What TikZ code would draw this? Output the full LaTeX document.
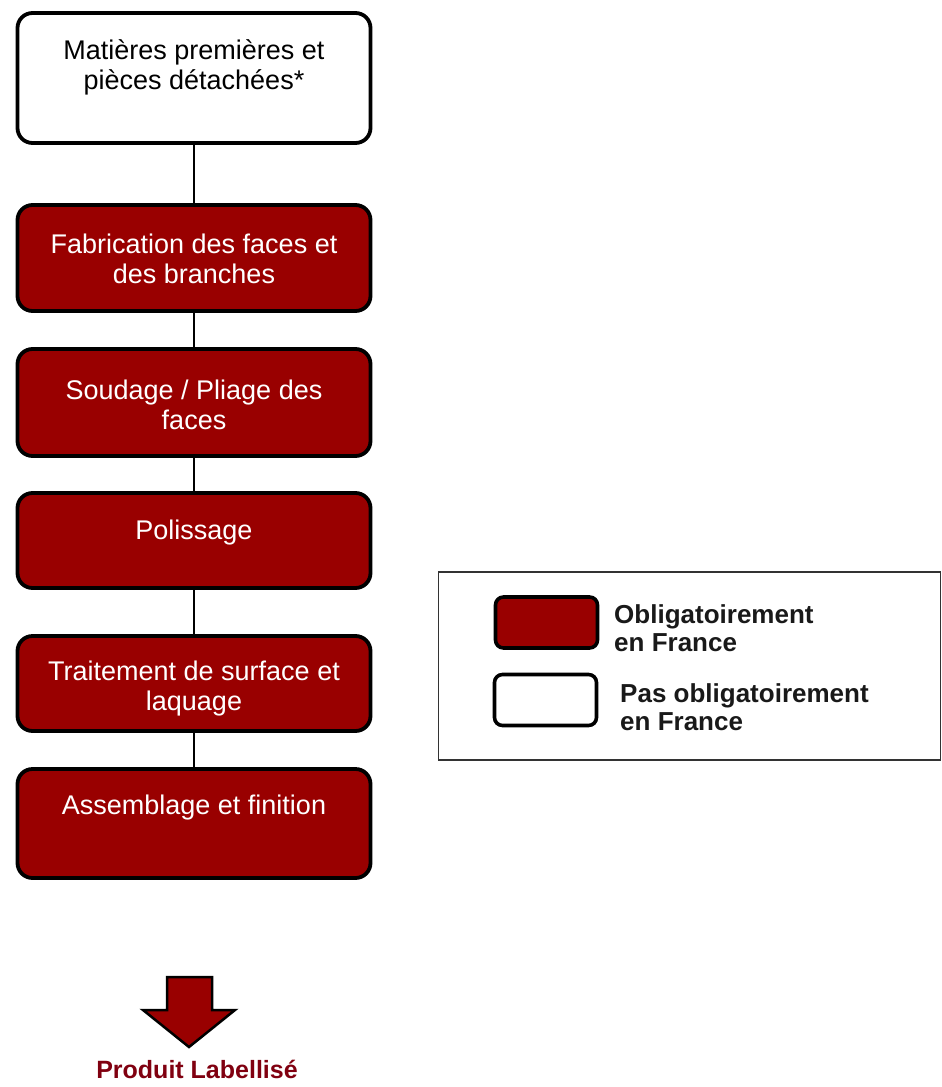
\documentclass[tikz,border=0pt]{standalone}
\usepackage{fontspec}
\setmainfont{Liberation Sans}
\definecolor{boxred}{RGB}{153,0,0}
\definecolor{labred}{RGB}{128,0,16}
\begin{document}
\begin{tikzpicture}[x=1pt,y=-1pt,
  stepbox/.style={draw=black, line width=3.8pt, rounded corners=15pt, minimum width=353pt, inner sep=0pt, outer sep=0pt},
  redbox/.style={stepbox, fill=boxred},
  whitebox/.style={stepbox, fill=white},
  boxtext/.style={align=center, font=\fontsize{27}{30}\selectfont, inner sep=0pt},
  whitetext/.style={boxtext, text=white},
  conn/.style={draw=black, line width=1.5pt},
  swatch/.style={draw=black, line width=3.6pt, rounded corners=8pt, minimum width=102pt, minimum height=51pt, inner sep=0pt},
  legtext/.style={align=left, anchor=west, font=\bfseries\fontsize{26}{28}\selectfont, inner sep=0pt, text=black!90}
]
\useasboundingbox (0,0) rectangle (942,1087);

% process boxes
\node[whitebox, minimum height=130pt] (b1) at (194,78) {};
\node[redbox, minimum height=106pt] (b2) at (194,258) {};
\node[redbox, minimum height=107pt] (b3) at (194,402.5) {};
\node[redbox, minimum height=95pt] (b4) at (194,540.5) {};
\node[redbox, minimum height=95pt] (b5) at (194,683.5) {};
\node[redbox, minimum height=109pt] (b6) at (194,823.5) {};

% texts
\node[boxtext] (t1) at (194,67) {Matières premières et\\pièces détachées*};
\node[whitetext] (t2) at (194,259) {Fabrication des faces et\\des branches};
\node[whitetext] (t3) at (194,405) {Soudage / Pliage des\\faces};
\node[whitetext] (t4) at (194,533) {Polissage};
\node[whitetext] (t5) at (194,689) {Traitement de surface et\\laquage};
\node[whitetext] (t6) at (194,808) {Assemblage et finition};

% connectors
\draw[conn] (b1.south) -- (b2.north);
\draw[conn] (b2.south) -- (b3.north);
\draw[conn] (b3.south) -- (b4.north);
\draw[conn] (b4.south) -- (b5.north);
\draw[conn] (b5.south) -- (b6.north);

% legend
\node[draw=black!80, line width=1.2pt, minimum width=502pt, minimum height=188pt, inner sep=0pt] (leg) at (689.5,666) {};
\node[swatch, fill=boxred] (sw1) at (546.5,622.5) {};
\node[swatch, fill=white] (sw2) at (545.5,700) {};
\node[legtext] (l1) at (614,628) {Obligatoirement\\en France};
\node[legtext] (l2) at (620,707) {Pas obligatoirement\\en France};

% final arrow
\draw[fill=boxred, draw=black, line width=2.5pt, line join=miter]
  (167,977) -- (212,977) -- (212,1010) -- (235,1010) -- (189,1047) -- (143,1010) -- (167,1010) -- cycle;
\node[font=\bfseries\fontsize{25}{28}\selectfont, text=labred, inner sep=0pt] (prod) at (197,1069) {Produit Labellisé};
\end{tikzpicture}
\end{document}
